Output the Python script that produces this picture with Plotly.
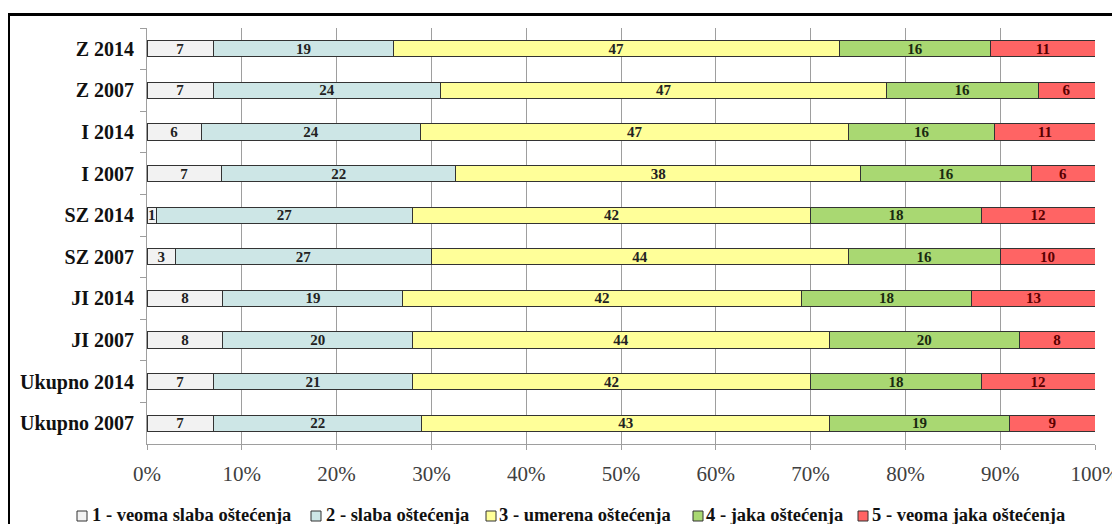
import plotly.graph_objects as go

categories = ["Z 2014", "Z 2007", "I 2014", "I 2007", "SZ 2014", "SZ 2007",
              "JI 2014", "JI 2007", "Ukupno 2014", "Ukupno 2007"]
series_names = ["1 - veoma slaba oštećenja", "2 - slaba oštećenja",
                "3 - umerena oštećenja", "4 - jaka oštećenja",
                "5 - veoma jaka oštećenja"]
s1 = [7, 7, 6, 7, 1, 3, 8, 8, 7, 7]
s2 = [19, 24, 24, 22, 27, 27, 19, 20, 21, 22]
s3 = [47, 47, 47, 38, 42, 44, 42, 44, 42, 43]
s4 = [16, 16, 16, 16, 18, 16, 18, 20, 18, 19]
s5 = [11, 6, 11, 6, 12, 10, 13, 8, 12, 9]
x_ticks = [0, 10, 20, 30, 40, 50, 60, 70, 80, 90, 100]
x_tick_labels = [f"{v}%" for v in x_ticks]

colors = ["#F2F2F2", "#CDE6E6", "#FFFF99", "#A9D872", "#FF6464"]
text_colors = ["#222222", "#222222", "#222222", "#1a2a10", "#5a0000"]

# the page body has an 8px margin: build the figure 8px smaller and
# express positions in window (screen) pixels
OX, OY = 8, 8
W, H = 1120 - OX, 524 - OY
# plot area in screen pixels: x 147..1095, y 28..444
L, R, T, B = 147 - OX, W - (1095 - OX), 28 - OY, H - (444 - OY)
PW, PH = W - L - R, H - T - B


def px_x(sx):
    return (sx - OX - L) / PW


def px_y(sy):
    return (T + PH - (sy - OY)) / PH


fig = go.Figure()
for name, vals, c, tc in zip(series_names, [s1, s2, s3, s4, s5], colors, text_colors):
    fig.add_trace(go.Bar(
        y=categories, x=vals, name=name, orientation="h",
        marker=dict(color=c, line=dict(color="#333333", width=1)),
        text=vals, texttemplate="<b>%{text}</b>",
        textposition="inside", insidetextanchor="middle", textangle=0,
        textfont=dict(family="Liberation Serif", size=15, color=tc),
        showlegend=False,
    ))

fig.update_layout(
    barmode="stack", barnorm="percent", bargap=0.615,
    width=W, height=H,
    margin=dict(l=L, r=R, t=T, b=B, autoexpand=False),
    plot_bgcolor="white", paper_bgcolor="white",
    uniformtext=dict(minsize=15, mode="show"),
    showlegend=False,
)
fig.update_xaxes(range=[0, 100], tickvals=x_ticks, ticktext=x_tick_labels,
                 showgrid=True, gridcolor="#9E9E9E", gridwidth=1,
                 showline=True, linecolor="#9E9E9E", linewidth=1,
                 ticks="outside", ticklen=5, tickcolor="#9E9E9E",
                 tickfont=dict(family="Liberation Serif", size=21, color="#404040"),
                 ticklabelstandoff=6,
                 zeroline=False, fixedrange=True, automargin=False)
fig.update_yaxes(autorange="reversed", showline=True, linecolor="#9E9E9E", linewidth=1,
                 ticks="outside", tickson="boundaries", ticklen=6, tickcolor="#9E9E9E",
                 tickfont=dict(family="Liberation Serif", size=20, color="#111111", weight="bold"),
                 ticklabelstandoff=8, showgrid=False, automargin=False)

# outer frame
fig.add_shape(type="rect", xref="paper", yref="paper",
              x0=px_x(8.5), x1=px_x(1135), y0=px_y(540), y1=px_y(14.5),
              line=dict(color="black", width=3), fillcolor="rgba(0,0,0,0)", layer="below")

# custom legend (screen pixel positions of the squares and text starts)
legend_sq_left = [77, 311, 486, 693, 858]
legend_txt_left = [91, 325, 498, 705, 871]
for name, c, sx, tx in zip(series_names, colors, legend_sq_left, legend_txt_left):
    fig.add_shape(type="rect", xref="paper", yref="paper",
                  x0=px_x(sx), x1=px_x(sx + 10), y0=px_y(521), y1=px_y(511),
                  line=dict(color="#333333", width=1), fillcolor=c)
    fig.add_annotation(xref="paper", yref="paper", x=px_x(tx), y=px_y(515),
                       xanchor="left", yanchor="middle", showarrow=False,
                       text=name, xshift=-1,
                       font=dict(family="Liberation Serif", size=18.5, color="#111111",
                                 weight="bold"))

fig.write_html("out.html")
